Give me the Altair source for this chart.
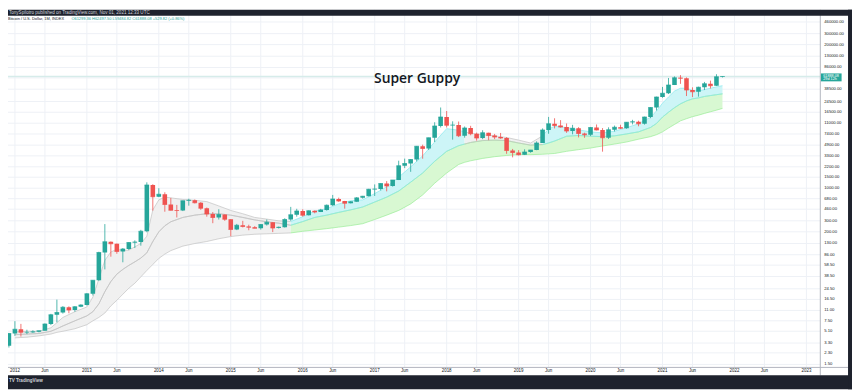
import altair as alt
import pandas as pd

# ---------------- data ----------------
# month index: 0 = Jan 2012 (monthly candles, Dec 2011 .. Nov 2021)
candle_month = list(range(-1, 119))
candle_open = [3.0,
    4.7, 5.5, 4.9, 4.9, 5.0, 5.2, 6.7, 9.4, 10.2, 12.4, 11.2, 12.6,
    13.5, 20.4, 33.4, 93, 139, 129, 97, 106, 135, 138, 204, 1130,
    732, 803, 550, 445, 440, 628, 640, 586, 478, 387, 338, 378,
    318, 217, 254, 244, 236, 229, 263, 284, 230, 236, 314, 377,
    430, 369, 437, 416, 448, 531, 673, 624, 575, 608, 700, 742,
    964, 967, 1190, 1080, 1350, 2300, 2480, 2875, 4700, 4340, 6450, 9950,
    13850, 10220, 10320, 6930, 9240, 7490, 6390, 7730, 7020, 6630, 6370, 4020,
    3740, 3450, 3820, 4100, 5320, 8560, 10820, 10080, 9590, 8290, 9150, 7550,
    7190, 9350, 8540, 6410, 8630, 9450, 9140, 11350, 11650, 10780, 13800, 19700,
    28990, 33110, 45160, 58800, 57720, 37300, 35040, 41460, 47100, 43790, 61299.36]
candle_high = [4.8,
    7.4, 6.7, 5.4, 5.3, 5.2, 6.8, 9.7, 16.4, 12.9, 12.8, 12.9, 13.8,
    20.8, 33.6, 96, 266, 140, 130, 110, 136, 146, 215, 1242, 1160,
    1000, 860, 700, 540, 630, 680, 660, 600, 490, 415, 460, 380,
    320, 268, 300, 260, 247, 267, 315, 285, 243, 330, 502, 468,
    460, 440, 440, 467, 548, 780, 705, 626, 620, 720, 753, 977,
    1150, 1200, 1300, 1350, 2760, 2980, 2920, 4750, 4980, 6450, 11400, 19650,
    17250, 11800, 11700, 9750, 9990, 7770, 8490, 7760, 7410, 7680, 6590, 4260,
    4080, 4200, 4100, 5630, 9090, 13880, 13200, 12330, 10900, 10350, 9500, 7750,
    9580, 10500, 9190, 9460, 10080, 10380, 11450, 12470, 12070, 14000, 19850, 29300,
    41950, 58350, 61780, 64850, 59600, 41300, 42300, 50500, 52900, 67000, 62497.50]
candle_low = [2.8,
    4.3, 4.2, 4.6, 4.8, 4.9, 5.2, 6.4, 7.1, 9.8, 9.9, 10.5, 12.4,
    13.2, 19.1, 33, 50, 80, 89, 65, 102, 110, 120, 197, 438,
    720, 420, 440, 340, 430, 525, 570, 450, 350, 275, 315, 300,
    170, 213, 235, 212, 228, 217, 252, 198, 226, 234, 300, 350,
    350, 365, 396, 415, 437, 520, 605, 470, 570, 605, 680, 740,
    750, 920, 890, 1060, 1350, 2100, 1830, 2690, 2970, 4110, 5500, 9400,
    9400, 6000, 6600, 6450, 7050, 5780, 6100, 5880, 6120, 6200, 3560, 3120,
    3350, 3400, 3700, 4060, 5320, 7460, 9080, 9350, 7710, 7300, 6520, 6430,
    6850, 8450, 3850, 6150, 8100, 8920, 8970, 10530, 9820, 10440, 13240, 17600,
    28130, 32300, 45000, 47000, 30000, 28800, 29300, 37400, 39600, 43300, 59484.82]
candle_close = [4.7,
    5.5, 4.9, 4.9, 5.0, 5.2, 6.7, 9.4, 10.2, 12.4, 11.2, 12.6, 13.5,
    20.4, 33.4, 93, 139, 129, 97, 106, 135, 138, 204, 1130, 732,
    803, 550, 445, 440, 628, 640, 586, 478, 387, 338, 378, 318,
    217, 254, 244, 236, 229, 263, 284, 230, 236, 314, 377, 430,
    369, 437, 416, 448, 531, 673, 624, 575, 608, 700, 742, 964,
    967, 1190, 1080, 1350, 2300, 2480, 2875, 4700, 4340, 6450, 9950, 13850,
    10220, 10320, 6930, 9240, 7490, 6390, 7730, 7020, 6630, 6370, 4020, 3740,
    3450, 3820, 4100, 5320, 8560, 10820, 10080, 9590, 8290, 9150, 7550, 7190,
    9350, 8540, 6410, 8630, 9450, 9140, 11350, 11650, 10780, 13800, 19700, 28990,
    33110, 45160, 58800, 57720, 37300, 35040, 41460, 47100, 43790, 61300, 61888.08]

# Super Guppy ribbon envelope (price levels)
guppy_m = [0, 2, 4, 6, 7, 8, 10, 12, 13, 14, 15, 16, 17, 18, 19, 20, 21, 22, 23, 24,
           25, 26, 28, 30, 32, 34, 36, 38, 40, 42, 44, 46, 48, 50, 52, 54, 56, 58, 60,
           62, 64, 66, 68, 70, 72, 74, 75, 76, 78, 80, 82, 84, 86, 88, 89, 90, 92, 94,
           96, 98, 100, 102, 104, 106, 107, 108, 109, 110, 111, 112, 113, 114, 115,
           116, 117, 118]
guppy_top = [5.0, 5.1, 5.1, 5.8, 7.0, 8.5, 10.5, 12.5, 18, 35, 70, 95, 105, 100, 102,
             115, 130, 170, 450, 650, 720, 700, 660, 640, 610, 520, 440, 390, 340, 320,
             300, 292, 350, 430, 470, 560, 630, 650, 820, 1050, 1500, 2200, 3300, 5500,
             9000, 8500, 8000, 7600, 7200, 6900, 6500, 5900, 5300, 6900, 8900, 9800,
             9400, 8600, 8000, 7700, 8200, 9300, 10800, 13700, 17300, 23000, 29000,
             36000, 40000, 40000, 37000, 36000, 38000, 40000, 42000, 44000]
guppy_mid = [4.5, 4.6, 4.7, 5.1, 5.6, 6.2, 7.5, 9.0, 10.5, 14, 22, 32, 42, 50, 58, 66,
             76, 92, 140, 200, 250, 290, 340, 370, 390, 390, 370, 340, 310, 290, 275,
             255, 292, 340, 370, 410, 450, 500, 600, 720, 900, 1250, 1750, 2700, 3900,
             4800, 5100, 5400, 5800, 5900, 5800, 5300, 4900, 5000, 5300, 5700, 6800,
             7000, 6800, 6700, 6900, 7400, 8000, 9400, 10900, 13800, 16500, 19500,
             22500, 25000, 27000, 28000, 29500, 30500, 31500, 32500]
guppy_bot = [4.0, 4.1, 4.3, 4.6, 4.9, 5.1, 5.6, 6.5, 7.5, 8.5, 10, 13, 16, 20, 25, 30,
             38, 48, 60, 75, 88, 100, 118, 130, 140, 155, 168, 177, 183, 186, 189, 192,
             204, 214, 225, 238, 252, 270, 315, 370, 440, 560, 780, 1200, 1750, 2400,
             2600, 2750, 3000, 3200, 3350, 3450, 3450, 3500, 3550, 3600, 3900, 4150,
             4400, 4750, 5100, 5500, 6100, 6700, 7200, 8000, 9200, 10500, 12000, 13000,
             14000, 14800, 15800, 16800, 17800, 19000]
fast_segments = [(0, 46, "gray"), (46, 75, "aqua"), (75, 88, "gray"), (88, 118, "aqua")]
slow_segments = [(0, 46, "gray"), (46, 118, "lime")]

price_ticks = [1.5, 2.3, 3.3, 5.1, 7.5, 11, 16.5, 24.5, 38.5, 58.5, 86, 130, 200, 300,
               460, 680, 1000, 1500, 2200, 3300, 4900, 7400, 11000, 16500, 24500, 38500,
               58500, 86000, 130000, 200000, 300000, 460000]
hidden_tick = 58500   # covered by the last-price badge in the reference
time_labels = []
time_label_month = []
for yr in range(2012, 2024):
    time_labels.append(str(yr))
    time_label_month.append(12 * (yr - 2012))
    if yr < 2023:
        time_labels.append("Jun")
        time_label_month.append(12 * (yr - 2012) + 5)

last_price = [61888.08]
title_text = "Super Guppy"
header_text = "TonySpilotro published on TradingView.com, Nov 01, 2021 12:33 UTC"
legend_name = "Bitcoin / U.S. Dollar, 1M, INDEX"
legend_values = "O61299.36  H62497.50  L59484.82  C61888.08  +529.82 (+0.86%)"

# ---------------- tables ----------------
candles = pd.DataFrame({"m": candle_month, "o": candle_open, "h": candle_high,
                        "l": candle_low, "c": candle_close})
candles["dir"] = ["up" if c >= o else "down" for o, c in zip(candle_open, candle_close)]

def seg_table(segs, prefix):
    rows = []
    for i, (a, b, cls) in enumerate(segs):
        for m, t, mi, bo in zip(guppy_m, guppy_top, guppy_mid, guppy_bot):
            if a <= m <= b:
                rows.append({"seg": f"{prefix}{i}", "cls": cls, "m": m,
                             "top": t, "mid": mi, "bot": bo})
    return pd.DataFrame(rows)

fast_df = seg_table(fast_segments, "f")
slow_df = seg_table(slow_segments, "s")
ptick_df = pd.DataFrame({"p": price_ticks, "label": [f"{v:.2f}" for v in price_ticks]})
plabel_df = ptick_df[ptick_df["p"] != hidden_tick]
tlab_df = pd.DataFrame({"m": time_label_month, "label": time_labels})
last_df = pd.DataFrame({"p": last_price})
one = pd.DataFrame({"k": [0]})

# ---------------- scales / layout ----------------
W, H = 852, 383
PLOT_R = 820      # right edge of plot area (price axis starts)
PLOT_B = 361      # bottom edge of plot area (time axis starts)
xs = alt.Scale(domain=[-0.3265, 138.776], nice=False, zero=False)
ys = alt.Scale(type="log", domain=[0.60165, 722340], nice=False)
GRID = "#eef1f6"
DARK = "#1e222d"
TXT = "#131722"
UP, DOWN = "#26a69a", "#ef5350"
fill_scale = alt.Scale(domain=["gray", "aqua", "lime"], range=["#f0f0f0", "#cdf5f7", "#d8f8d2"])
line_scale = alt.Scale(domain=["gray", "aqua", "lime"], range=["#c2c2c2", "#86e8ee", "#9aec97"])
cscale = alt.Scale(domain=["up", "down"], range=[UP, DOWN])

def X(f):
    return alt.X(f, scale=xs, axis=None)

def Y(f):
    return alt.Y(f, scale=ys, axis=None, stack=None)

layers = []
# grid
layers.append(alt.Chart(tlab_df).mark_rule(color=GRID, strokeWidth=1).encode(
    x=X("m:Q"), y=alt.value(0), y2=alt.value(PLOT_B)))
layers.append(alt.Chart(ptick_df).mark_rule(color=GRID, strokeWidth=1).encode(
    y=Y("p:Q"), x=alt.value(0), x2=alt.value(PLOT_R)))
# last price line
layers.append(alt.Chart(last_df).mark_rule(color="#d6ecea", strokeWidth=1.5).encode(
    y=Y("p:Q"), x=alt.value(0), x2=alt.value(PLOT_R)))
# guppy ribbons
layers.append(alt.Chart(slow_df).mark_area(clip=True).encode(
    x=X("m:Q"), y=Y("mid:Q"), y2="bot:Q",
    fill=alt.Fill("cls:N", scale=fill_scale, legend=None), detail="seg:N"))
layers.append(alt.Chart(fast_df).mark_area(clip=True).encode(
    x=X("m:Q"), y=Y("top:Q"), y2="mid:Q",
    fill=alt.Fill("cls:N", scale=fill_scale, legend=None), detail="seg:N"))
for df, col in ((slow_df, "bot"), (slow_df, "mid"), (fast_df, "mid"), (fast_df, "top")):
    layers.append(alt.Chart(df).mark_line(clip=True, strokeWidth=0.7).encode(
        x=X("m:Q"), y=Y(f"{col}:Q"),
        stroke=alt.Stroke("cls:N", scale=line_scale, legend=None), detail="seg:N"))
# candles
layers.append(alt.Chart(candles).mark_rule(clip=True, strokeWidth=0.8).encode(
    x=X("m:Q"), y=Y("l:Q"), y2="h:Q", color=alt.Color("dir:N", scale=cscale, legend=None)))
layers.append(alt.Chart(candles).mark_bar(clip=True, size=4.6).encode(
    x=X("m:Q"), y=Y("o:Q"), y2="c:Q", color=alt.Color("dir:N", scale=cscale, legend=None)))
layers.append(alt.Chart(candles).mark_tick(clip=True, orient="horizontal", size=4.6, thickness=1).encode(
    x=X("m:Q"), y=Y("c:Q"), color=alt.Color("dir:N", scale=cscale, legend=None)))
# title annotation
layers.append(alt.Chart(one).mark_text(text=title_text, font="Open Sans", fontSize=14,
    fontWeight=600, color=TXT, align="center", baseline="middle").encode(
    x=alt.value(413), y=alt.value(70)))
# legend line
layers.append(alt.Chart(one).mark_text(text=legend_name, font="Liberation Sans", fontSize=4.0,
    color=TXT, align="left", baseline="middle").encode(x=alt.value(0), y=alt.value(9.5)))
layers.append(alt.Chart(one).mark_text(text=legend_values, font="Liberation Sans", fontSize=4.0,
    color=UP, align="left", baseline="middle").encode(x=alt.value(64), y=alt.value(9.5)))
# price axis panel
layers.append(alt.Chart(one).mark_rect(color="white").encode(
    x=alt.value(PLOT_R), x2=alt.value(W), y=alt.value(0), y2=alt.value(H)))
layers.append(alt.Chart(one).mark_rect(color="white").encode(
    x=alt.value(0), x2=alt.value(W), y=alt.value(PLOT_B), y2=alt.value(H)))
layers.append(alt.Chart(plabel_df).mark_text(font="Liberation Sans", fontSize=4.2, color=TXT,
    align="left", baseline="middle").encode(x=alt.value(824), y=Y("p:Q"), text="label:N"))
layers.append(alt.Chart(tlab_df).mark_text(font="Liberation Sans", fontSize=4.5, color=TXT,
    align="center", baseline="middle").encode(x=X("m:Q"), y=alt.value(365), text="label:N"))
# last price badge
layers.append(alt.Chart(last_df).mark_rule(color=UP, strokeWidth=8, yOffset=1).encode(
    y=Y("p:Q"), x=alt.value(PLOT_R + 0.5), x2=alt.value(PLOT_R + 21.5)))
layers.append(alt.Chart(last_df).mark_text(text="61888.08", font="Liberation Sans", fontSize=3.8,
    color="white", align="left", baseline="middle", dy=-0.8).encode(x=alt.value(823), y=Y("p:Q")))
layers.append(alt.Chart(last_df).mark_text(text="29d 12h", font="Liberation Sans", fontSize=3.8,
    color="white", align="left", baseline="middle", dy=2.9).encode(x=alt.value(823), y=Y("p:Q")))
# axis borders
layers.append(alt.Chart(one).mark_rule(color="#b2b5be", strokeWidth=1).encode(
    x=alt.value(PLOT_R), y=alt.value(0), y2=alt.value(369)))
layers.append(alt.Chart(one).mark_rule(color="#b2b5be", strokeWidth=1).encode(
    y=alt.value(PLOT_B), x=alt.value(0), x2=alt.value(848)))
# dark frame
layers.append(alt.Chart(one).mark_rect(color=DARK).encode(
    x=alt.value(0), x2=alt.value(W), y=alt.value(0), y2=alt.value(6)))
layers.append(alt.Chart(one).mark_rect(color=DARK).encode(
    x=alt.value(0), x2=alt.value(W), y=alt.value(369), y2=alt.value(H)))
layers.append(alt.Chart(one).mark_rect(color=DARK).encode(
    x=alt.value(848), x2=alt.value(W), y=alt.value(0), y2=alt.value(H)))
layers.append(alt.Chart(one).mark_text(text=header_text, font="Liberation Sans", fontSize=4.6,
    color="#d1d4dc", align="left", baseline="middle").encode(x=alt.value(1), y=alt.value(3)))
layers.append(alt.Chart(one).mark_text(text="TV TradingView", font="Liberation Sans", fontSize=4.6,
    fontWeight="bold", color="#d1d4dc", align="left", baseline="middle").encode(
    x=alt.value(1), y=alt.value(375)))

chart = alt.layer(*layers).properties(
    width=W, height=H, padding=0, autosize="none", background="white"
).resolve_scale(color="independent").configure_view(stroke=None)

chart.save("out.html", embed_options={"renderer": "svg", "actions": False})
